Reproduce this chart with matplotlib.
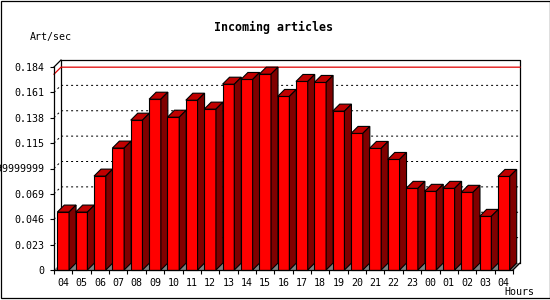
import numpy as np
import matplotlib.pyplot as plt
from matplotlib.patches import Polygon, Rectangle

hours = ['04', '05', '06', '07', '08', '09', '10', '11', '12', '13', '14', '15',
         '16', '17', '18', '19', '20', '21', '22', '23', '00', '01', '02', '03', '04']
rate = [0.0525, 0.0525, 0.0851, 0.1105, 0.1358, 0.1548, 0.1385, 0.1539, 0.1458,
        0.1684, 0.1727, 0.1775, 0.1573, 0.1709, 0.1700, 0.1440, 0.1238, 0.1102,
        0.1002, 0.0740, 0.0713, 0.0740, 0.0704, 0.0486, 0.0848]
yticks = [0, 0.023, 0.046, 0.069, 0.092, 0.115, 0.138, 0.161, 0.184]
ytick_labels = ['0', '0.023', '0.046', '0.069', '0.09199999999', '0.115',
                '0.138', '0.161', '0.184']

plt.rcParams['font.family'] = 'DejaVu Sans Mono'

fig = plt.figure(figsize=(5.5, 3), dpi=100)
# front plane of the plot: x 54..513 px, y 67..270 px
ax = fig.add_axes([54 / 550, 30 / 300, 459 / 550, 203 / 300])
n = len(rate)
x0, x1 = -0.5, n - 0.5
ymax = 0.184
ax.set_xlim(x0, x1)
ax.set_ylim(0, ymax)

# 3d depth, 7 px each way, in data units
dx = 7 * (x1 - x0) / 459
dy = 7 * ymax / 203
w = 0.64

# floor
ax.add_patch(Polygon([(x0, 0), (x1, 0), (x1 + dx, dy), (x0 + dx, dy)],
                     closed=True, facecolor='#808080', edgecolor='none',
                     zorder=1, clip_on=False))

# grid on the back plane
for v in yticks[1:-1]:
    ax.plot([x0, x0 + dx, x1 + dx], [v, v + dy, v + dy], color='black',
            lw=0.72, ls=(0, (2, 3)), zorder=2, clip_on=False)

# back plane frame
ax.plot([x0 + dx, x0 + dx, x1 + dx, x1 + dx],
        [dy, ymax + dy, ymax + dy, dy], color='black', lw=0.9,
        zorder=2, clip_on=False)
ax.plot([x0, x0 + dx], [ymax, ymax + dy], color='black', lw=0.9, zorder=2, clip_on=False)
ax.plot([x1, x1 + dx], [0, dy], color='black', lw=0.9, zorder=2, clip_on=False)

# max line
m = max(rate)
ax.plot([x0, x0 + dx, x1 + dx], [m, m + dy, m + dy], color='#e00000',
        lw=0.9, zorder=2.5, clip_on=False)

# bars
xs = np.arange(n)
bars = ax.bar(xs, rate, width=w, color='#ff0000', edgecolor='black', lw=0.8)
for i, (b, v) in enumerate(zip(bars, rate)):
    z = 3 + i * 0.01
    b.set_zorder(z)
    b.set_clip_on(False)
    l, r = i - w / 2, i + w / 2
    ax.add_patch(Polygon([(l, v), (r, v), (r + dx, v + dy), (l + dx, v + dy)],
                         closed=True, facecolor='#c00000', edgecolor='black',
                         lw=0.8, zorder=z, clip_on=False))
    ax.add_patch(Polygon([(r, 0), (r + dx, dy), (r + dx, v + dy), (r, v)],
                         closed=True, facecolor='#800000', edgecolor='black',
                         lw=0.8, zorder=z, clip_on=False))

for s in ['top', 'right']:
    ax.spines[s].set_visible(False)
for s in ['left', 'bottom']:
    ax.spines[s].set_linewidth(0.9)
    ax.spines[s].set_zorder(4)
ax.patch.set_visible(False)

ax.set_yticks(yticks, ytick_labels)
ax.tick_params(axis='y', length=3, width=0.8, pad=4, labelsize=7.2)
ax.set_xticks(np.arange(x0, x1 + 0.5, 1))
ax.set_xticklabels([])
ax.set_xticks(xs, hours, minor=True)
ax.tick_params(axis='x', which='major', length=3, width=0.8)
ax.tick_params(axis='x', which='minor', length=0, pad=6, labelsize=7.2)

fig.text(274 / 550, 1 - 27 / 300, 'Incoming articles', ha='center', va='center',
         fontsize=8.4, fontweight='bold')
fig.text(30 / 550, 1 - 37 / 300, 'Art/sec', ha='left', va='center', fontsize=7.2)
fig.text(534 / 550, 1 - 292 / 300, 'Hours', ha='right', va='center', fontsize=7.2)

fig.patches.append(Rectangle((0.5 / 550, 2.5 / 300), 549 / 550, 297 / 300,
                             transform=fig.transFigure, fill=False,
                             edgecolor='black', lw=0.9))

fig.savefig('out.png', dpi=100)
